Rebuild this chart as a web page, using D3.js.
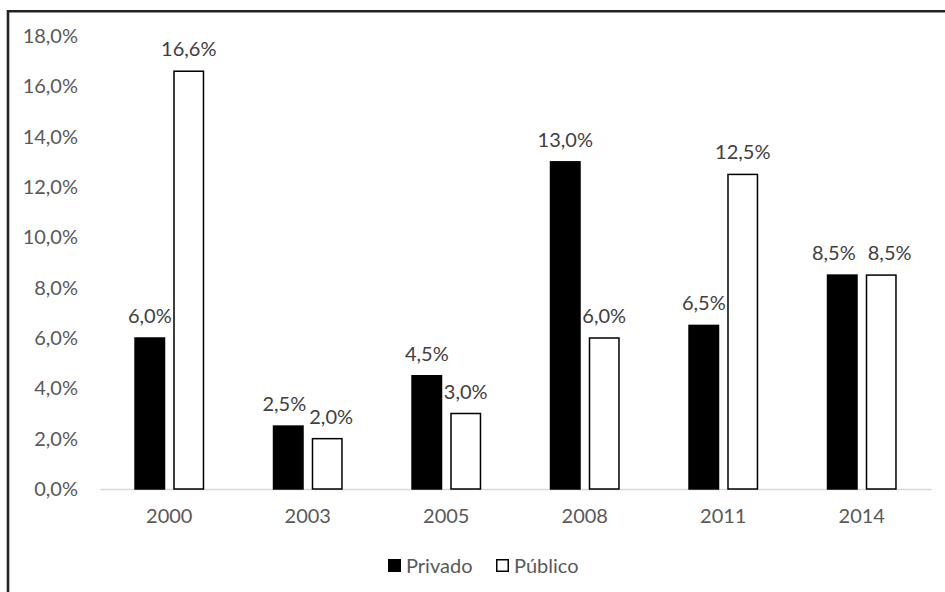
<!DOCTYPE html>
<html>
<head>
<meta charset="utf-8">
<script src="https://cdn.jsdelivr.net/npm/d3@7/dist/d3.min.js"></script>
<style>
  html, body { margin: 0; padding: 0; background: #fff; }
  svg { display: block; }
  text { font-family: Lato, "Open Sans", sans-serif; font-size: 20px; }
</style>
</head>
<body>
<svg id="chart" width="945" height="592"></svg>
<script>
// Years shown on the horizontal axis
const years = ["2000", "2003", "2005", "2008", "2011", "2014"];
// Series names
const seriesNames = ["Privado", "Público"];
// Percentage values per year
const privado = [6.0, 2.5, 4.5, 13.0, 6.5, 8.5];
const publico = [16.6, 2.0, 3.0, 6.0, 12.5, 8.5];
// Vertical axis ticks (percent)
const yTicks = [0, 2, 4, 6, 8, 10, 12, 14, 16, 18];

const seriesValues = { "Privado": privado, "Público": publico };
const seriesStyle = {
  "Privado": { fill: "#000", stroke: "#000" },
  "Público": { fill: "#fff", stroke: "#000" }
};

const svg = d3.select("#chart");
const W = 945, H = 592;

svg.append("rect").attr("width", W).attr("height", H).attr("fill", "#fff");

// Frame around the chart area (open to the right and bottom)
svg.append("path")
  .attr("d", "M8,600 V11.3 H950")
  .attr("fill", "none")
  .attr("stroke", "#222")
  .attr("stroke-width", 2.6);

const plot = { left: 100, right: 931, top: 36, bottom: 489 };

const pct = v => d3.format(".1f")(v).replace(".", ",") + "%";

const x = d3.scaleBand()
  .domain(years)
  .range([plot.left, plot.right])
  .paddingInner(0.495)
  .paddingOuter(0.2475);

const xs = d3.scaleBand()
  .domain(seriesNames)
  .range([0, x.bandwidth()])
  .paddingInner(0.205)
  .paddingOuter(0);

const y = d3.scaleLinear()
  .domain([0, 18])
  .range([plot.bottom, plot.top]);

// Y axis labels
const yAxis = svg.append("g")
  .attr("transform", `translate(${plot.left},0)`)
  .call(d3.axisLeft(y).tickValues(yTicks).tickFormat(pct).tickSize(0).tickPadding(22));
yAxis.select(".domain").remove();
yAxis.selectAll("text")
  .attr("fill", "#595959")
  .style("font-size", "20px")
  .style("font-family", "Lato, 'Open Sans', sans-serif");

// X axis baseline and labels
const xAxis = svg.append("g")
  .attr("transform", `translate(0,${plot.bottom})`)
  .call(d3.axisBottom(x).tickSize(0).tickPadding(20));
xAxis.select(".domain")
  .attr("stroke", "#d9d9d9")
  .attr("stroke-width", 1.3);
xAxis.selectAll("text")
  .attr("fill", "#595959")
  .style("font-size", "20px")
  .style("font-family", "Lato, 'Open Sans', sans-serif");

// Bars
const rows = years.map((yr, i) => ({
  year: yr,
  items: seriesNames.map(s => ({ series: s, value: seriesValues[s][i] }))
}));

const groups = svg.append("g").selectAll("g")
  .data(rows)
  .join("g")
  .attr("transform", d => `translate(${x(d.year)},0)`);

groups.selectAll("rect")
  .data(d => d.items)
  .join("rect")
  .attr("x", d => xs(d.series) + 0.75)
  .attr("width", xs.bandwidth() - 1.5)
  .attr("y", d => y(d.value))
  .attr("height", d => y(0) - y(d.value))
  .attr("fill", d => seriesStyle[d.series].fill)
  .attr("stroke", d => seriesStyle[d.series].stroke)
  .attr("stroke-width", 1.5);

// Value labels, centred over each bar
groups.each(function() {
  const labels = d3.select(this).selectAll("text.value")
    .data(d => d.items)
    .join("text")
    .attr("class", "value")
    .attr("x", d => xs(d.series) + xs.bandwidth() / 2)
    .attr("y", d => y(d.value) - 15)
    .attr("text-anchor", "middle")
    .attr("fill", "#404040")
    .text(d => pct(d.value));

  // Push the two labels of a year apart when they collide
  const nodes = labels.nodes();
  if (nodes.length === 2) {
    const [a, b] = nodes;
    const wa = a.getComputedTextLength(), wb = b.getComputedTextLength();
    const xa = +a.getAttribute("x"), xb = +b.getAttribute("x");
    const dy = Math.abs(+a.getAttribute("y") - +b.getAttribute("y"));
    const minGap = dy < 6 ? 12 : (dy < 20 ? 3 : -Infinity);
    const gap = (xb - wb / 2) - (xa + wa / 2);
    if (gap < minGap) {
      const shift = (minGap - gap) / 2;
      a.setAttribute("x", xa - shift);
      b.setAttribute("x", xb + shift);
    }
  }
});

// Legend
const legend = svg.append("g").attr("transform", "translate(388,559)");
const legendX = [0, 108];
seriesNames.forEach((s, i) => {
  const g = legend.append("g").attr("transform", `translate(${legendX[i]},0)`);
  g.append("rect")
    .attr("x", 0.75).attr("y", 0.75)
    .attr("width", 11.5).attr("height", 11.5)
    .attr("fill", seriesStyle[s].fill)
    .attr("stroke", seriesStyle[s].stroke)
    .attr("stroke-width", 1.5);
  g.append("text")
    .attr("x", 18)
    .attr("y", 13.5)
    .attr("fill", "#595959")
    .text(s);
});
</script>
</body>
</html>
